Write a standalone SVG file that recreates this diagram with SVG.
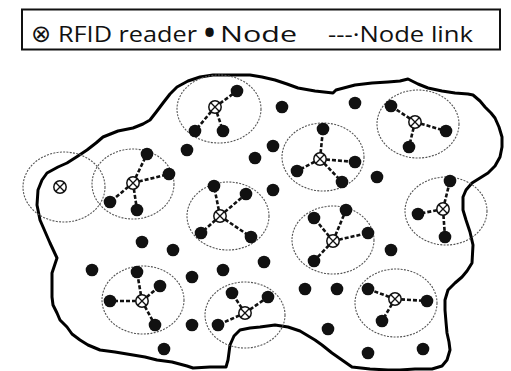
<svg xmlns="http://www.w3.org/2000/svg" xmlns:xlink="http://www.w3.org/1999/xlink" width="511" height="371" viewBox="0 0 511 371">
<style>
.lg{font-family:"Open Sans","Liberation Sans",sans-serif;font-size:22px;fill:#111}
.rng{fill:none;stroke:#555;stroke-width:1.1;stroke-dasharray:2 1.3}
.n{fill:#111}
.lk{stroke:#111;stroke-width:2.6;stroke-dasharray:4 2;fill:none}
.blob{fill:none;stroke:#000;stroke-width:3;stroke-linejoin:round;stroke-linecap:round}
</style>
<defs>
<g id="R"><circle r="6.2" fill="#fff" stroke="#111" stroke-width="1.5"/><path d="M-4.2-4.2L4.2 4.2M4.2-4.2L-4.2 4.2" stroke="#111" stroke-width="1.3"/></g>
</defs>
<rect width="511" height="371" fill="#fff"/>
<g id="legend">
<rect x="22" y="9.5" width="478" height="40" fill="#fff" stroke="#111" stroke-width="2"/>
<text class="lg" x="31" y="42" style="font-family:'DejaVu Sans',sans-serif;font-size:24px">⊗</text>
<text class="lg" x="58" y="42" textLength="139" lengthAdjust="spacingAndGlyphs">RFID reader</text>
<text class="lg" x="202" y="47" style="font-size:40px">•</text>
<text class="lg" x="220" y="42" textLength="77" lengthAdjust="spacingAndGlyphs">Node</text>
<text class="lg" x="328" y="42" textLength="145" lengthAdjust="spacingAndGlyphs">---·Node link</text>
</g>
<path class="blob" d="M52,297 L52,273 L57,258 L50,243 L40,220 L37,205 L38,190 L42,180 L47,173 L58,167 L67,163 L78,156 L87,150 L96,143 L103,137 L118,131 L133,128 L143,124 L150,120 L157,111 L163,103 L170,94 L177,87 L188,81 L200,77 L213,75 L227,75 L240,75 L250,75 L262,77 L275,80 L287,84 L298,88 L315,91 L333,93 L336,90 L355,85 L372,83 L388,82 L400,81 L408,79 L418,84 L428,88 L442,91 L455,93 L468,94 L473,95 L480,101 L485,107 L491,113 L495,118 L499,127 L502,137 L502,147 L500,157 L495,166 L488,173 L480,178 L472,183 L466,190 L463,197 L463,210 L466,220 L470,232 L473,245 L472,263 L467,271 L462,277 L455,283 L448,290 L445,300 L445,310 L446,322 L447,333 L449,342 L450,350 L447,360 L442,366 L432,369 L415,369 L400,370 L388,370 L370,369 L352,367 L342,360 L332,353 L322,345 L315,340 L300,331 L288,327 L275,325 L260,327 L250,328 L240,330 L234,336 L230,345 L228,360 L226,367 L210,367 L193,368 L187,366 L172,362 L157,360 L145,357 L133,355 L115,352 L100,350 L88,345 L80,340 L72,334 L67,327 L60,320 L57,313 L53,305 Z"/>
<g id="ranges">
<ellipse class="rng" cx="219" cy="109" rx="42" ry="34"/>
<ellipse class="rng" cx="64" cy="187" rx="41" ry="35"/>
<ellipse class="rng" cx="133" cy="184" rx="41" ry="35"/>
<ellipse class="rng" cx="228" cy="216" rx="41" ry="34"/>
<ellipse class="rng" cx="323" cy="157" rx="41" ry="34"/>
<ellipse class="rng" cx="418" cy="124" rx="41" ry="34"/>
<ellipse class="rng" cx="446" cy="211" rx="41" ry="34"/>
<ellipse class="rng" cx="333" cy="240" rx="41" ry="34"/>
<ellipse class="rng" cx="143" cy="300" rx="41" ry="34"/>
<ellipse class="rng" cx="245" cy="315" rx="40" ry="33"/>
<ellipse class="rng" cx="396" cy="303" rx="41" ry="34"/>
</g>
<g id="connectors" class="lk">
<path d="M215,107L237,91M215,107L195,131M215,107L223,131"/>
<path d="M133,183L147,154M133,183L169,174M133,183L110,202M133,183L137,210"/>
<path d="M220,216L214,186M220,216L246,194M220,216L201,233M220,216L251,237"/>
<path d="M320,159L323,129M320,159L355,162M320,159L297,171M320,159L342,182"/>
<path d="M415,122L391,106M415,122L446,131M415,122L409,147"/>
<path d="M443,209L450,181M443,209L418,214M443,209L445,237"/>
<path d="M333,241L314,218M333,241L346,210M333,241L368,233M333,241L314,261"/>
<path d="M142,301L137,272M142,301L160,286M142,301L110,301M142,301L155,325"/>
<path d="M245,313L232,293M245,313L268,297M245,313L218,325"/>
<path d="M395,299L368,289M395,299L427,301M395,299L382,321"/>
</g>
<g id="clusterA"><use xlink:href="#R" x="215" y="107"/><circle class="n" cx="237" cy="91" r="6.3"/><circle class="n" cx="195" cy="131" r="6.3"/><circle class="n" cx="223" cy="131" r="6.3"/></g>
<g id="clusterB"><use xlink:href="#R" x="60" y="187"/></g>
<g id="clusterC"><use xlink:href="#R" x="133" y="183"/><circle class="n" cx="147" cy="154" r="6.3"/><circle class="n" cx="169" cy="174" r="6.3"/><circle class="n" cx="110" cy="202" r="6.3"/><circle class="n" cx="137" cy="210" r="6.3"/></g>
<g id="clusterD"><use xlink:href="#R" x="220" y="216"/><circle class="n" cx="214" cy="186" r="6.3"/><circle class="n" cx="246" cy="194" r="6.3"/><circle class="n" cx="201" cy="233" r="6.3"/><circle class="n" cx="251" cy="237" r="6.3"/></g>
<g id="clusterE"><use xlink:href="#R" x="320" y="159"/><circle class="n" cx="323" cy="129" r="6.3"/><circle class="n" cx="355" cy="162" r="6.3"/><circle class="n" cx="297" cy="171" r="6.3"/><circle class="n" cx="342" cy="182" r="6.3"/></g>
<g id="clusterF"><use xlink:href="#R" x="415" y="122"/><circle class="n" cx="391" cy="106" r="6.3"/><circle class="n" cx="446" cy="131" r="6.3"/><circle class="n" cx="409" cy="147" r="6.3"/></g>
<g id="clusterG"><use xlink:href="#R" x="443" y="209"/><circle class="n" cx="450" cy="181" r="6.3"/><circle class="n" cx="418" cy="214" r="6.3"/><circle class="n" cx="445" cy="237" r="6.3"/></g>
<g id="clusterH"><use xlink:href="#R" x="333" y="241"/><circle class="n" cx="314" cy="218" r="6.3"/><circle class="n" cx="346" cy="210" r="6.3"/><circle class="n" cx="368" cy="233" r="6.3"/><circle class="n" cx="314" cy="261" r="6.3"/></g>
<g id="clusterI"><use xlink:href="#R" x="142" y="301"/><circle class="n" cx="137" cy="272" r="6.3"/><circle class="n" cx="160" cy="286" r="6.3"/><circle class="n" cx="110" cy="301" r="6.3"/><circle class="n" cx="155" cy="325" r="6.3"/></g>
<g id="clusterJ"><use xlink:href="#R" x="245" y="313"/><circle class="n" cx="232" cy="293" r="6.3"/><circle class="n" cx="268" cy="297" r="6.3"/><circle class="n" cx="218" cy="325" r="6.3"/></g>
<g id="clusterK"><use xlink:href="#R" x="395" y="299"/><circle class="n" cx="368" cy="289" r="6.3"/><circle class="n" cx="427" cy="301" r="6.3"/><circle class="n" cx="382" cy="321" r="6.3"/></g>
<g id="freeNodes">
<g id="f1"><circle class="n" cx="187" cy="150" r="6.3"/></g>
<g id="f2"><circle class="n" cx="255" cy="158" r="6.3"/></g>
<g id="f3"><circle class="n" cx="282" cy="107" r="6.3"/></g>
<g id="f4"><circle class="n" cx="355" cy="103" r="6.3"/></g>
<g id="f5"><circle class="n" cx="273" cy="146" r="6.3"/></g>
<g id="f6"><circle class="n" cx="377" cy="177" r="6.3"/></g>
<g id="f7"><circle class="n" cx="273" cy="190" r="6.3"/></g>
<g id="f8"><circle class="n" cx="142" cy="242" r="6.3"/></g>
<g id="f9"><circle class="n" cx="173" cy="250" r="6.3"/></g>
<g id="f10"><circle class="n" cx="92" cy="270" r="6.3"/></g>
<g id="f11"><circle class="n" cx="192" cy="277" r="6.3"/></g>
<g id="f12"><circle class="n" cx="223" cy="270" r="6.3"/></g>
<g id="f13"><circle class="n" cx="192" cy="325" r="6.3"/></g>
<g id="f14"><circle class="n" cx="164" cy="349" r="6.3"/></g>
<g id="f15"><circle class="n" cx="264" cy="262" r="6.3"/></g>
<g id="f16"><circle class="n" cx="391" cy="250" r="6.3"/></g>
<g id="f17"><circle class="n" cx="305" cy="289" r="6.3"/></g>
<g id="f18"><circle class="n" cx="337" cy="289" r="6.3"/></g>
<g id="f19"><circle class="n" cx="328" cy="329" r="6.3"/></g>
<g id="f20"><circle class="n" cx="368" cy="353" r="6.3"/></g>
<g id="f21"><circle class="n" cx="423" cy="349" r="6.3"/></g>
</g>
</svg>
